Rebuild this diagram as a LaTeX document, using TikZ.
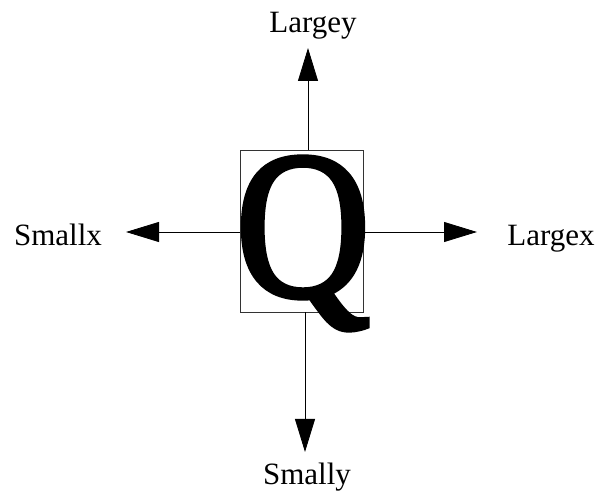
\documentclass[tikz,border=0pt]{standalone}
\usepackage{fontspec}
\setmainfont{Liberation Serif}
\newfontfamily\bigQfont[FakeBold=2.5]{Liberation Serif}
\usetikzlibrary{arrows.meta}
\begin{document}
\begin{tikzpicture}[x=1pt, y=1pt, >={Triangle[length=33pt, width=20pt]},
  lbl/.style={anchor=base, inner sep=0pt, font=\fontsize{31}{31}\selectfont}]
  \useasboundingbox (0,0) rectangle (598,493);

  % Box with the big letter
  \node[draw=black!80, line width=0.6pt, minimum width=123pt, minimum height=162pt, inner sep=0pt] (box) at (301.5,262) {};
  \node[anchor=base, inner sep=0pt, xscale=0.89, font=\bigQfont\fontsize{210}{210}\selectfont] (Q) at (303,197) {Q};

  % Arrow tips
  \coordinate (up) at (308,445);
  \coordinate (down) at (305,41);
  \coordinate (left) at (126,261);
  \coordinate (right) at (477,261);

  % Arrows out of the box
  \draw[->, line width=0.9pt] (up |- box.north) -- (up);
  \draw[->, line width=0.9pt] (down |- box.south) -- (down);
  \draw[->, line width=0.9pt] (left -| box.west) -- (left);
  \draw[->, line width=0.9pt] (right -| box.east) -- (right);

  % Labels
  \node[lbl] (largey) at (313,460) {Largey};
  \node[lbl] (smally) at (307,8) {Smally};
  \node[lbl] (smallx) at (58,247) {Smallx};
  \node[lbl] (largex) at (551,247) {Largex};
\end{tikzpicture}
\end{document}
